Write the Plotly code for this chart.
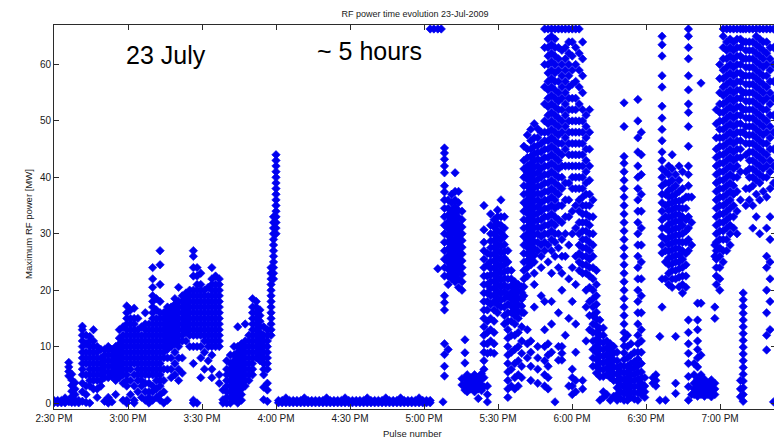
import plotly.graph_objects as go

# ---------------- data ----------------
# time in minutes after 2:30 PM, each column holds the pulse powers [MW] seen there
tick_minutes = [0, 30, 60, 90, 120, 150, 180, 210, 240, 270]
tick_labels = ["2:30 PM", "3:00 PM", "3:30 PM", "4:00 PM", "4:30 PM",
               "5:00 PM", "5:30 PM", "6:00 PM", "6:30 PM", "7:00 PM"]
power_ticks = [0, 10, 20, 30, 40, 50, 60]

session1_minutes = [0, 1.5, 3, 4.5, 6, 7.2, 8.5, 10, 11.5, 13, 14.5, 16, 17.5, 19, 20.5, 22,
                    23.5, 25, 26.5, 28, 29.5, 31, 32.5, 34, 35.5, 37, 38.5, 40, 41.5, 43,
                    44.5, 46, 47.5, 49, 50.5, 52, 53.5, 55, 56.5, 58, 59.5, 61, 62.5, 64,
                    65.5, 67, 68.5, 70, 71.5, 73, 74.5, 76, 77.5, 79, 80.5, 82, 83.5, 85,
                    86.5, 88, 89, 90]
session1_power = [
    [0.05, 0.45], [0.05, 0.45], [0.05, 0.45], [0.05, 0.45, 0.9],
    [0.2, 4.8, 5.6, 6.4, 7.2], [0.1, 1.1, 2.1, 3.1, 4.1, 5.1], [0.1, 0.5, 1.5, 2.5, 3.6],
    [0.05, 0.45],
    [0.3, 2, 3.5, 5, 6, 7, 8, 9, 10, 11, 12, 13, 13.6],
    [0.1, 1.5, 3, 5, 7, 8, 9, 10.5, 12],
    [0, 3, 4, 5, 6, 7, 8, 9, 10, 11, 11.8],
    [2.5, 4, 5, 6, 7, 8, 9, 10, 11, 13],
    [1, 2.5, 4, 5, 6, 7, 8, 9, 10],
    [3, 4, 5, 6, 7, 8, 9.5],
    [0.3, 4.5, 5.5, 6.5, 7.5, 8.5, 9.5],
    [0, 1, 4.5, 5.5, 6.5, 7.5, 8.5, 9.5, 10],
    [0.2, 4.7, 5.5, 6.5, 7.5, 8.5, 9.5],
    [1.5, 4, 5, 6, 7, 8, 9, 10],
    [4.5, 5.5, 6.5, 7.5, 8.5, 9.5, 10.5, 11.5, 13],
    [0.5, 3.5, 5, 6, 7, 8, 9, 10, 11, 12, 13.5],
    [0, 0.5, 3, 4, 5, 6, 7, 8, 9, 10, 11, 12, 13, 14, 15, 16, 17.2],
    [1.5, 4, 6, 7, 8, 9, 10, 11, 12, 13, 14, 15, 16.5],
    [0, 0.5, 3, 5, 7, 8, 9, 10, 11, 12, 13, 14, 15, 16.8],
    [2, 4, 5, 6, 7, 8, 9, 10, 11, 12, 13, 15],
    [1, 3, 4, 5, 6, 7, 8, 9, 10, 11, 12, 13.5],
    [0.5, 2, 3.5, 5, 6, 7, 8, 9, 10, 11, 12, 13, 14, 16],
    [0, 1, 2, 3.5, 5, 6, 7, 8, 9, 10, 11, 12, 13, 14],
    [0.5, 2, 3, 5, 6, 7, 8, 9, 10, 11, 12, 13, 14, 15, 16, 17, 18, 19, 20.5, 22, 24],
    [1, 2.5, 4, 5, 6, 7, 8, 9, 10, 11, 12, 13, 14, 15, 16.5, 18.5],
    [0.5, 1.5, 3, 4, 5, 6, 7, 8, 9, 10, 11, 12, 13, 14, 15, 16, 18, 21, 24.5, 27],
    [0, 2, 4, 6, 8, 9, 10, 11, 12, 13, 14, 15, 16],
    [0.5, 6, 8, 9.5, 10.5, 11.5, 12.5, 13.5, 14.5, 15.5, 16.5, 17],
    [4.5, 6, 8, 10, 11, 12, 13, 14, 15, 16, 17],
    [5, 7, 9, 10.5, 11.5, 12.5, 13.5, 14.5, 15.5, 16.5, 17.5, 18.5],
    [4, 6, 8, 10, 11, 12, 13, 14, 15, 16, 17, 18, 20.5],
    [5.3, 8, 11, 12, 13, 14, 15, 16, 17, 18, 19],
    [11, 12.5, 13.5, 14.5, 15.5, 16.5, 17.5, 18.5, 19.5],
    [10, 12, 13, 14, 15, 16, 17, 18, 19, 20],
    [0, 0.5, 7, 10, 12, 13, 14, 15, 16, 17, 18, 19, 20, 22.5, 24, 26, 27],
    [0, 10, 12, 13, 14, 15, 16, 17, 18, 19, 20, 21, 22.5, 24],
    [4.5, 8, 10, 12, 13, 14, 15, 16, 17, 18, 19, 20, 21, 23],
    [6, 9, 11, 12, 13, 14, 15, 16, 17, 18, 19, 20],
    [7.5, 10, 11, 12, 13, 14, 15, 16, 17, 18, 19, 20.5],
    [4.5, 6, 8.5, 10, 11, 12, 13, 14, 15, 16, 17, 18, 19, 20, 21, 22, 24],
    [10, 11, 12, 13, 14, 15, 16, 17, 18, 19, 20, 21, 22.5],
    [3.5, 5, 10, 11, 12, 13, 14, 15, 16, 17, 18, 19, 20, 21, 22],
    [0, 0.6, 2.3],
    [0, 1, 2, 3, 4, 5, 6, 7.5],
    [0, 1, 2, 3, 4, 5, 6, 7, 8.5],
    [0.5, 1.5, 2.5, 3.5, 4.5, 5.5, 6.5, 7.5, 8.5, 10],
    [0, 1, 2, 3, 4, 5, 6, 7, 8, 9, 10, 13.5],
    [0.5, 1.5, 2.5, 3.5, 4.5, 5.5, 6.5, 7.5, 8.5, 9.5, 10.5],
    [3, 4, 5, 6, 7, 8, 9, 10, 11, 14],
    [4, 5, 6, 7, 8, 9, 10, 11, 12],
    [5, 6, 7, 8, 9, 10, 11, 12, 13, 14, 15, 16, 17, 18.5],
    [8, 9, 10, 11, 12, 13, 14, 15, 16, 17, 18],
    [7.5, 8.5, 9.5, 10.5, 11.5, 12.5, 13.5, 14.5, 15.5, 16.5],
    [0.6, 2.8, 5, 6, 7, 8, 9, 10, 11, 12, 13.5],
    [0.3, 2.3, 3.5, 6, 7, 8, 9, 10, 11, 12, 13],
    [12, 13, 14, 15, 16, 17, 18, 19, 20, 21, 22, 23, 24],
    [22, 23, 24, 25, 26, 27, 28, 29, 30, 31, 32, 33],
    [30, 31, 32, 33, 34, 35, 36, 37, 38, 39, 40, 41, 42, 43, 44],
]

idle_minutes = [91, 92.5, 94, 95.5, 97, 98.5, 100, 101.5, 103, 104.5, 106, 107.5, 109,
                110.5, 112, 113.5, 115, 116.5, 118, 119.5, 121, 122.5, 124, 125.5, 127,
                128.5, 130, 131.5, 133, 134.5, 136, 137.5, 139, 140.5, 142, 143.5, 145,
                146.5, 148, 149.5, 151, 152.5, 154, 155.6, 157, 157.7]
idle_power = [
    [0.05, 0.45], [0.05, 0.45], [0.05, 0.45, 0.9], [0.05, 0.45], [0.05, 0.45],
    [0.05, 0.45], [0.05, 0.45], [0.05, 0.45, 0.9], [0.05, 0.45], [0.05, 0.45],
    [0.05, 0.45], [0.05, 0.45], [0.05, 0.45], [0.05, 0.45, 0.9], [0.05, 0.45],
    [0.05, 0.45], [0.05, 0.45], [0.05, 0.45], [0.05, 0.45, 0.9], [0.05, 0.45],
    [0.05, 0.45], [0.05, 0.45], [0.05, 0.45], [0.05, 0.45], [0.05, 0.45, 0.9],
    [0.05, 0.45], [0.05, 0.45], [0.05, 0.45], [0.05, 0.45], [0.05, 0.45, 0.9],
    [0.05, 0.45], [0.05, 0.45], [0.05, 0.45], [0.05, 0.45, 0.9], [0.05, 0.45],
    [0.05, 0.45], [0.05, 0.45], [0.05, 0.45], [0.05, 0.45, 0.9], [0.05, 0.45],
    [0.05, 0.45], [0.05, 0.45, 66.3], [66.3], [23.8, 66.3], [66.3], [0.2],
]

session2_minutes = [158.3, 159.8, 161.2, 162.6, 164, 165.4, 166.6, 167.5, 169, 170.5, 172,
                    173.3, 174.3, 175.7, 177, 178.4, 179.8, 181.2, 182.6, 184, 185.4,
                    186.8, 188.2, 189.6, 190.5, 191.9, 193.3, 194.7, 196.1, 197.5, 198.9,
                    200.3, 201.7, 203.1, 204.5, 205.9, 207.3, 208.7, 210.1, 211.5, 212.9,
                    214.3, 215.7, 217.1, 218.5, 219.9, 221.3, 222.7, 224.1, 225.5, 226.9,
                    228.3, 229.7, 231.1, 232.5, 233.9, 235.3, 236.7, 238.1, 239.5, 242.8,
                    244, 245.6, 246.5, 247.9, 249.2, 250.6, 252, 253.4, 254.8, 256.2,
                    257.2, 258.5, 259.5, 260.9, 262.3, 263.7, 265.1, 266.5, 267.9, 268.5,
                    269.9, 271.3, 272.7, 274.1, 275.5, 276.9, 278.3, 279.4, 280.5, 281.9,
                    283.3, 284.7, 286.1, 287.5, 288.9, 290.3, 291.7]
session2_power = [
    [4.8, 6.5, 8.6, 10.5, 16.5, 17.8, 19, 22.5, 24, 25.5, 27, 28.5, 30, 31.5, 33, 34.5,
     36, 37.4, 38.5, 40.8, 42, 43.2, 44.3, 45.2],
    [9.5, 21, 22.5, 23.7, 24.9, 26.1, 27.3, 28.5, 29.7, 30.9, 32.1, 33.3, 34.5, 36],
    [22, 23.2, 24.4, 25.6, 26.8, 28, 29.2, 30.4, 31.6, 32.8, 34, 35.5, 37],
    [21.5, 22.7, 23.9, 25.1, 26.3, 27.5, 28.7, 29.9, 31.1, 32.3, 33.5, 34.7, 36, 37.5, 40.8],
    [20.5, 22, 23.3, 24.5, 25.7, 26.9, 28.1, 29.3, 30.5, 31.7, 32.9, 34.1, 35.5, 37.5],
    [3.2, 4.3, 20, 21.5, 22.8, 24, 25.2, 26.4, 27.6, 28.8, 30, 31.2, 32.5, 34],
    [2.3, 3.3, 4.4, 7.1, 8.9, 11.2],
    [2, 3, 4, 5],
    [2.5, 3.5, 4.5],
    [2, 3, 4, 5],
    [0.8, 2.5, 3.5, 4.5],
    [2.2, 3.2, 4.2, 5.2],
    [2.9, 4.5, 6, 7.5, 9, 10.5, 12, 13.5, 15, 16.5, 18, 19.5, 21, 22.5, 24, 25.5, 27,
     28.5, 30.7, 35],
    [0.2, 1.5, 3, 8.8, 10.5, 12.5, 14.5, 16.5, 18, 19.5, 21, 22.5, 24.5, 26.5],
    [9, 11, 13, 15, 17.5, 19, 20.3, 21.5, 22.7, 23.9, 25.1, 26.3, 27.5, 28.7, 30, 31.5, 33.5],
    [8.8, 10.5, 12.5, 14.5, 16.5, 18, 19.2, 20.4, 21.6, 22.8, 24, 25.2, 26.4, 27.6, 28.8,
     30, 31.2, 32.5],
    [16, 17.4, 18.6, 19.8, 21, 22.2, 23.4, 24.6, 25.8, 27, 28.2, 29.4, 30.6, 31.8, 33, 34.2],
    [17, 18.2, 19.4, 20.6, 21.8, 23, 24.2, 25.4, 26.6, 27.8, 29, 30.2, 31.5, 33, 36],
    [14, 15.5, 17, 18.5, 19.7, 20.9, 22.1, 23.3, 24.5, 25.7, 26.9, 28.1, 29.5, 31, 33],
    [1, 2.5, 4, 5.5, 7, 8.5, 10, 11.5, 13, 14.5, 16, 17.5, 19, 20.5, 22, 23.5, 25, 27],
    [3, 6, 9, 12, 14.5, 16, 17.2, 18.4, 19.6, 20.8, 22, 23.5],
    [2.5, 4.5, 7, 9.5, 12, 14, 15.5, 16.7, 17.9, 19.1, 20.3, 21.5],
    [3, 5, 7.5, 10, 12.5, 15, 16.2, 17.4, 18.6, 19.8, 21],
    [4.5, 6.5, 8.8, 11, 13.5, 16, 17.2, 18.4, 19.6, 20.6],
    [16, 19, 20.6, 22, 23.5, 25, 26.5, 28, 29.5, 31, 32.5, 34, 35.5, 37, 38.5, 40, 41.5,
     43, 45.5],
    [8, 10.5, 13, 22.5, 24, 25.2, 26.4, 27.6, 28.8, 30, 31.2, 32.4, 33.6, 34.8, 36, 37.2,
     38.4, 39.6, 40.8, 42, 43.5, 45, 47.5],
    [4, 6.5, 9, 11, 24.5, 25.7, 26.9, 28.1, 29.3, 30.5, 31.7, 32.9, 34.1, 35.3, 36.5, 37.7,
     38.9, 40.1, 41.3, 42.5, 43.7, 45, 46.5, 48.5],
    [17, 21, 23, 25, 26.2, 27.4, 28.6, 29.8, 31, 32.2, 33.4, 34.6, 35.8, 37, 38.2, 39.4,
     40.6, 41.8, 43, 44.2, 45.5, 47, 49.5],
    [3.5, 6, 8, 10, 27, 28.5, 30, 31.2, 32.4, 33.6, 34.8, 36, 37.2, 38.4, 39.6, 40.8, 42,
     43.2, 44.4, 45.6, 47, 48.6],
    [19, 24, 26, 28, 29.5, 31, 32.5, 34, 35.5, 37, 38.5, 40, 41.5, 43, 44.5, 46, 48],
    [3, 5, 7.5, 10, 13, 18, 27, 28.5, 30, 31.5, 33, 34.5, 36, 37.5, 39, 40.5, 42, 43.5, 45,
     46.5, 48, 50, 53, 56, 60, 63, 66.3],
    [2.5, 4.5, 6.5, 8.5, 10.5, 25, 28, 30, 31.5, 33, 34.5, 36, 37.5, 39, 40.5, 42, 43.5,
     45, 46.5, 48, 49.5, 51, 52.5, 54, 55.5, 57, 58.5, 60, 61.5, 63, 64.5, 66.3],
    [9, 14, 18, 23, 27, 29, 30.5, 32, 33.5, 35, 36.5, 38, 39.5, 41, 42.5, 44, 45.5, 47,
     48.5, 50, 51.5, 53, 54.5, 56, 57.5, 59, 60.5, 62, 63.5, 65, 66.3],
    [0.2, 26, 28.5, 30, 31.5, 33, 34.5, 36, 37.5, 39, 40.5, 42, 43.5, 45, 46.5, 48, 49.5,
     51, 52.5, 54, 55.5, 57, 58.5, 60, 61.5, 63, 64.5, 66.3],
    [7.6, 10, 16, 24, 27.5, 30, 32.5, 35, 37, 38.5, 40, 41.5, 43, 44.5, 46, 47.5, 49, 50.5,
     52, 53.5, 55, 57, 59, 61, 63, 66.3],
    [7.6, 8.8, 10, 20, 23, 26, 29, 32, 35, 38, 40, 42, 44, 46, 48, 50, 52, 54, 56, 58, 60,
     62.5, 66.3],
    [12, 26, 30, 33, 36, 39, 42, 45, 47, 49, 51, 53, 55, 57, 59, 61, 63, 66.3],
    [3, 15, 22, 28, 33, 36, 39, 42, 44, 46, 48, 50, 52, 54, 56, 58, 60, 62, 64, 66.3],
    [1.5, 3, 4.5, 6, 18, 24, 30, 34, 38, 40, 42, 44, 46, 48, 50, 52, 54, 56.5, 59, 61.5,
     64, 66.3],
    [2, 4, 9, 14, 21, 26, 31, 35, 38, 40, 42, 44, 46, 48, 50, 52, 54, 57, 60, 63, 66.3],
    [23.5, 25, 26.5, 28, 30, 32, 34, 36, 38, 40, 42, 44, 46, 48, 50, 53, 56, 59, 62, 66.3],
    [2.5, 4, 23, 24.5, 26, 27.5, 29, 30.5, 32, 33.5, 35, 36.5, 38, 40, 42, 44, 46, 48, 50,
     52, 55, 58, 61, 64],
    [11, 17, 20, 23, 24.5, 26, 27.5, 29, 30.5, 32, 33.5, 35, 37, 39, 41, 43, 45, 47, 49, 51],
    [13, 15.5, 18, 20.5, 22.5, 24, 25.5, 27, 28.5, 30, 31.5, 33, 35, 37, 39.5, 42, 45, 48, 52],
    [6.5, 8, 9.5, 11, 12.5, 14, 15.5, 17, 18.5, 20, 22, 24, 26, 28, 30, 33, 36],
    [5.3, 6.5, 7.7, 8.9, 10.1, 11.3, 12.5, 13.7, 14.9, 16.1, 17.5, 19, 21, 23.5],
    [0.5, 4.7, 6, 7.2, 8.4, 9.6, 10.8, 12, 13.2, 14.7],
    [1, 2, 4.7, 5.9, 7.1, 8.3, 9.5, 10.7, 12, 13.3],
    [1.5, 5, 6.2, 7.4, 8.6, 9.8, 11],
    [0.5, 4.5, 5.7, 6.9, 8.1, 9.3, 10.5],
    [1.2, 4, 5.2, 6.4, 7.6, 8.8, 10],
    [0.5, 1.5, 2.7, 3.9, 5.1, 6.3, 7.5, 9],
    [0.8, 2, 3.2, 4.4, 5.6, 6.6],
    [0.5, 1.7, 2.9, 4.1, 5.3, 6.5, 7.7, 8.9, 10.1, 11.3, 12.5, 14, 15.5, 17, 18.5, 20,
     21.5, 23, 24.5, 26, 27.5, 29, 30.5, 32, 33.5, 35, 36.5, 38, 39.5, 41, 42.5, 43.7, 49,
     53.2],
    [0.5, 1.5, 2.5, 3.5, 4.5, 5.5, 6.5, 8, 10, 12],
    [1, 2, 3, 4, 5, 6, 7, 8.5, 10.5],
    [0.7, 1.8, 2.9, 4, 5.1, 6.2, 7.3, 9],
    [0.5, 1.8, 3, 4.2, 5.4, 6.6, 7.8, 9, 10.5, 12, 14, 16, 18, 20, 22, 24, 26, 28, 30, 32,
     34, 36, 38, 40, 42, 44.5, 47, 50, 53.8],
    [1.5, 2.5, 3.5, 4.5, 5.5, 7, 9, 11, 13, 16, 19, 22, 25, 28, 31, 34, 37, 40.5, 44, 48],
    [1, 2, 3, 4.5],
    [3.5, 4.5],
    [3, 4, 5],
    [0.5, 11.8],
    [17, 22, 26.6, 28, 29.5, 31, 32.5, 34, 35.5, 37, 38.5, 40, 41.5, 43, 44.5, 46.5, 48.5,
     50.5, 52.6, 56, 58, 61.5, 63.5, 65],
    [0.5, 22, 25, 27, 29, 31, 33, 35, 37, 39, 41],
    [21, 23, 24.5, 25.7, 26.9, 28.1, 29.3, 30.5, 31.7, 32.9, 34.1, 35.3, 36.5, 37.7, 39,
     40.5, 42],
    [20.5, 22, 23.5, 24.7, 25.9, 27.1, 28.3, 29.5, 30.7, 31.9, 33.1, 34.3, 35.5, 36.7, 38,
     39.5, 41.5, 44],
    [1.7, 3.5, 11.8, 22, 23.5, 25, 26.2, 27.4, 28.6, 29.8, 31, 32.2, 33.4, 34.6, 35.8, 37,
     38.5, 40.5],
    [20.6, 22.3, 23.8, 25, 26.2, 27.4, 28.6, 29.8, 31, 32.2, 33.4, 34.6, 35.8, 37.5, 39.5, 42],
    [19.5, 21, 22.5, 24, 25.5, 27, 28.5, 30, 31.5, 33, 34.5, 36, 38, 41],
    [20.5, 22.5, 24.5, 26.5, 28.5, 30.5, 32.5, 34.5, 36.5],
    [0.5, 2.9, 4.7, 7, 8.8, 10.5, 12.5, 14.7, 27, 29, 31, 33, 36.5, 38.5, 40.5, 42, 45.5,
     49, 51.5, 53, 55.5, 58, 61, 63, 65, 66.3],
    [1.5, 28, 32, 36.5],
    [1.5, 2.5, 3.5, 5, 7],
    [1.2, 2.2, 3.2, 4.2, 6.4, 8, 9.5, 11, 13, 14.7, 17.7],
    [1.5, 2.5, 3.5, 5, 8.5, 17.7, 56.7],
    [1.2, 2.2, 3.2, 4.2],
    [1.5, 2.5, 3.5],
    [1.1, 2.1, 3.1, 4.1],
    [1.5, 2.5, 3.5, 15, 17, 26, 28],
    [21, 22.5, 24, 25.5, 27, 28.5, 30, 31.5, 33, 34.5, 36, 37.5, 39, 40.5, 42, 43.5, 45,
     47, 49.5, 52],
    [20, 22, 24, 26, 27.5, 29, 30.5, 32, 33.5, 35, 36.5, 38, 39.5, 41, 42.5, 44, 45.5, 47,
     48.5, 50, 51.5, 53, 55, 57.5, 60],
    [25, 27, 29, 30.5, 32, 33.5, 35, 36.5, 38, 39.5, 41, 42.5, 44, 45.5, 47, 48.5, 50,
     51.5, 53, 54.5, 56, 57.5, 59, 61, 63, 65, 66.3],
    [27, 29, 31, 32.5, 34, 35.5, 37, 38.5, 40, 41.5, 43, 44.5, 46, 47.5, 49, 50.5, 52,
     53.5, 55, 56.5, 58, 59.5, 61, 62.5, 64, 66.3],
    [28, 30, 31.5, 33, 34.5, 36, 37.5, 39, 40.5, 42, 43.5, 45, 46.5, 48, 49.5, 51, 52.5,
     54, 55.5, 57, 58.5, 60, 61.5, 63, 64.5, 66.3],
    [31, 33, 35, 37, 38.5, 40, 41.5, 43, 44.5, 46, 47.5, 49, 50.5, 52, 53.5, 55, 56.5, 58,
     59.5, 61, 62.5, 64, 66.3],
    [30, 34, 37.5, 40, 42, 43.5, 45, 46.5, 48, 49.5, 51, 52.5, 54, 55.5, 57, 58.5, 60,
     61.5, 63, 64.5, 66.3],
    [1.1, 2.5, 4, 36, 41, 43.5, 45, 46.5, 48, 49.5, 51, 52.5, 54, 55.5, 57, 58.5, 60, 61.5,
     63, 64.5, 66.3],
    [0.3, 1.5, 2.7, 3.9, 5.1, 6.3, 7.5, 8.7, 9.9, 11.1, 12.3, 13.5, 14.7, 15.9, 17.1, 18.3,
     19.5, 48, 52, 55, 58, 61, 64, 66.3],
    [35, 38, 41, 44, 46, 47.5, 49, 50.5, 52, 53.5, 55, 56.5, 58, 59.5, 61, 62.5, 64, 66.3],
    [36, 38, 40, 41.5, 43, 44.5, 46, 47.5, 49, 50.5, 52, 53.5, 55, 56.5, 58, 59.5, 61,
     62.5, 64, 66.3],
    [31, 35, 38.5, 40, 41.5, 43, 44.5, 46, 47.5, 49, 50.5, 52, 53.5, 55, 56.5, 58, 59.5,
     61, 62.5, 64, 66.3],
    [33, 37, 39.5, 41, 42.5, 44, 45.5, 47, 48.5, 50, 51.5, 53, 54.5, 56, 57.5, 59, 60.5,
     62, 63.5, 65, 66.3],
    [30, 36, 39, 40.5, 42, 43.5, 45, 46.5, 48, 49.5, 51, 52.5, 54, 55.5, 57, 58.5, 60,
     61.5, 63, 64.5, 66.3],
    [37.5, 40, 41.5, 43, 44.5, 46, 47.5, 49, 50.5, 52, 53.5, 55, 56.5, 58, 59.5, 61, 62.5,
     64, 66.3],
    [9.4, 12, 16, 20, 24, 26, 31, 36.5, 40, 42, 44, 46, 48, 50, 52, 54, 56, 58, 60, 62, 64,
     66.3],
    [13, 18, 22, 25, 29, 33, 38, 41, 43, 45, 47, 49, 51, 53, 55, 57, 59, 61, 63, 66.3],
    [0.2, 39, 42, 45, 48, 51, 54, 57, 60, 63, 66.3],
]

# ---------------- build the scatter from the columns ----------------
xs, ys = [], []
for mins, powers in ((session1_minutes, session1_power),
                     (idle_minutes, idle_power),
                     (session2_minutes, session2_power)):
    for m, vals in zip(mins, powers):
        xs.extend([m] * len(vals))
        ys.extend(vals)

FONT = "Liberation Sans, Arial, Helvetica, sans-serif"
AX = "#2b2b2b"
BLUE = "#0000f0"

fig = go.Figure(go.Scatter(
    x=xs, y=ys, mode="markers",
    marker=dict(symbol="diamond", size=6.5, color=BLUE, line=dict(width=0.6, color=BLUE)),
    hoverinfo="skip",
))

axis_common = dict(showgrid=False, zeroline=False, showline=True, linecolor=AX,
                   linewidth=1, mirror="ticks", ticks="inside", ticklen=5,
                   tickcolor=AX, tickwidth=1,
                   tickfont=dict(family=FONT, size=10, color="#1a1a1a"))

fig.update_xaxes(range=[0, 292.7], tickmode="array", tickvals=tick_minutes,
                 ticktext=tick_labels, **axis_common)
fig.update_yaxes(range=[-1.06, 67], tickmode="array", tickvals=power_ticks, **axis_common)

# the page body adds an 8 px offset, margins compensate for it
fig.update_layout(
    width=782, height=438,
    margin=dict(l=46, r=14, t=17, b=37),
    plot_bgcolor="white", paper_bgcolor="white",
    showlegend=False,
    font=dict(family=FONT, color="#1a1a1a"),
    title=dict(text="RF power time evolution 23-Jul-2009", x=0.5, xref="paper",
               xanchor="center", y=0.986, yanchor="middle", yref="container",
               font=dict(family=FONT, size=9, color="#1a1a1a")),
    annotations=[
        dict(text="23 July", x=45.4, y=61.7, xref="x", yref="y", showarrow=False,
             font=dict(family=FONT, size=25, color="black")),
        dict(text="~ 5 hours", x=128, y=62.4, xref="x", yref="y", showarrow=False,
             font=dict(family=FONT, size=25, color="black")),
        dict(text="Pulse number", x=0.496, y=-0.065, xref="paper", yref="paper",
             showarrow=False, yanchor="middle",
             font=dict(family=FONT, size=9.5, color="#1a1a1a")),
        dict(text="Maximum RF power [MW]", x=-0.0346, y=0.482, xref="paper", yref="paper",
             showarrow=False, textangle=-90, xanchor="center", yanchor="middle",
             font=dict(family=FONT, size=9.5, color="#1a1a1a")),
    ],
)

fig.write_html("out.html")
